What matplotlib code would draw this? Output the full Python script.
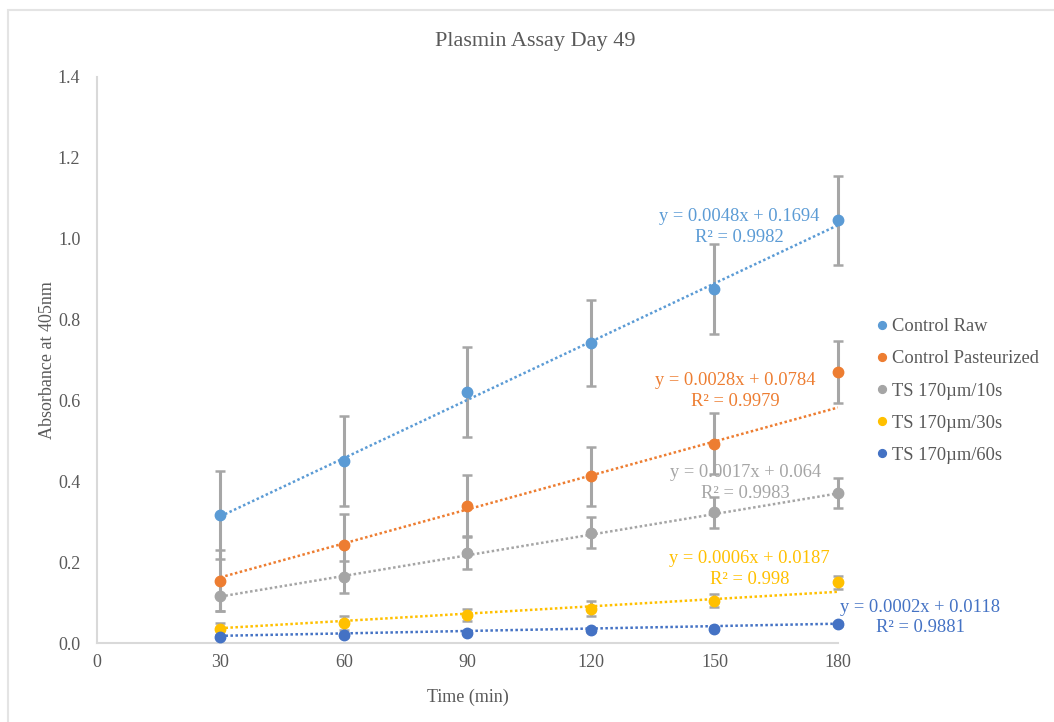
import numpy as np
import matplotlib.pyplot as plt
from matplotlib.patches import Rectangle

plt.rcParams['font.family'] = ['Liberation Serif', 'DejaVu Serif']

times = [30, 60, 90, 120, 150, 180]

names = ["Control Raw", "Control Pasteurized", "TS 170µm/10s", "TS 170µm/30s", "TS 170µm/60s"]
colors = ["#5B9BD5", "#ED7D31", "#A5A5A5", "#FFC000", "#4472C4"]

raw = [0.317, 0.451, 0.620, 0.742, 0.876, 1.045]
raw_err = [0.108, 0.111, 0.111, 0.107, 0.111, 0.109]
past = [0.154, 0.243, 0.340, 0.412, 0.493, 0.670]
past_err = [0.075, 0.077, 0.076, 0.074, 0.075, 0.076]
ts10 = [0.116, 0.164, 0.223, 0.273, 0.323, 0.371]
ts10_err = [0.037, 0.040, 0.040, 0.038, 0.038, 0.038]
ts30 = [0.035, 0.050, 0.070, 0.085, 0.105, 0.150]
ts30_err = [0.015, 0.018, 0.015, 0.018, 0.016, 0.016]
ts60 = [0.016, 0.019, 0.026, 0.032, 0.035, 0.047]
ts60_err = [0.004, 0.004, 0.004, 0.004, 0.004, 0.004]

# linear trendline fits: slope, intercept, R^2
slopes = [0.0048, 0.0028, 0.0017, 0.0006, 0.0002]
intercepts = [0.1694, 0.0784, 0.064, 0.0187, 0.0118]
r2_text = ["0.9982", "0.9979", "0.9983", "0.998", "0.9881"]
# where each equation label sits (x, y in data units)
label_x = [156, 155, 157.5, 158.5, 200]
label_y = [1.03, 0.623, 0.396, 0.183, 0.063]

series = [raw, past, ts10, ts30, ts60]
errors = [raw_err, past_err, ts10_err, ts30_err, ts60_err]

fig = plt.figure(figsize=(10.54, 7.22), dpi=100)
ax = fig.add_axes([0.092, 0.1094, 0.703, 0.784])

# chart area border
fig.patches.append(Rectangle((8 / 1054, -0.1), 1.2, (712 / 722) + 0.1,
                             transform=fig.transFigure, fill=False,
                             edgecolor="#e4e4e4", linewidth=1.5, zorder=0))

text_grey = "#595959"
xt = np.array([30, 180])
for name, col, ys, err, m, b, r2, lx, ly in zip(names, colors, series, errors, slopes,
                                               intercepts, r2_text, label_x, label_y):
    eb = ax.errorbar(times, ys, yerr=err, fmt="none", ecolor="#a6a6a6", elinewidth=2.2,
                     capsize=3.5, capthick=1.8, zorder=2)
    for art in eb.lines[1] + eb.lines[2]:
        art.set_clip_on(False)
    ax.plot(times, ys, "o", color=col, markersize=7.5, label=name, zorder=4, clip_on=False)
    ax.plot(xt, m * xt + b, color=col, linestyle=(0, (1, 1)), linewidth=1.8, zorder=3)
    ax.text(lx, ly, "y = %sx + %s\nR² = %s" % (m, b, r2), color=col, fontsize=13.3,
            ha="center", va="center", linespacing=1.3, zorder=5)

ax.set_xlim(0, 180)
ax.set_ylim(0, 1.4)
ax.set_xticks([0, 30, 60, 90, 120, 150, 180])
ax.set_yticks(np.arange(0, 1.41, 0.2))
ax.set_yticklabels(["%.1f" % v for v in np.arange(0, 1.41, 0.2)])
ax.tick_params(length=0, labelsize=13, labelcolor=text_grey)
ax.tick_params(axis="x", pad=8)
ax.tick_params(axis="y", pad=12)

for s in ["top", "right"]:
    ax.spines[s].set_visible(False)
for s in ["left", "bottom"]:
    ax.spines[s].set_color("#d9d9d9")
    ax.spines[s].set_linewidth(1.5)

fig.text(0.508, 0.942, "Plasmin Assay Day 49", fontsize=16, color=text_grey,
         ha="center", va="center")
ax.set_xlabel("Time (min)", fontsize=13, color=text_grey, labelpad=13)
ax.set_ylabel("Absorbance at 405nm", fontsize=13, color=text_grey, labelpad=1)

leg = ax.legend(loc="center left", bbox_to_anchor=(1.03, 0.445), frameon=False,
                fontsize=13.3, handlelength=0.6, handletextpad=0.2, labelspacing=0.82,
                markerscale=0.75)
for t in leg.get_texts():
    t.set_color(text_grey)

fig.savefig("out.png", dpi=100)
